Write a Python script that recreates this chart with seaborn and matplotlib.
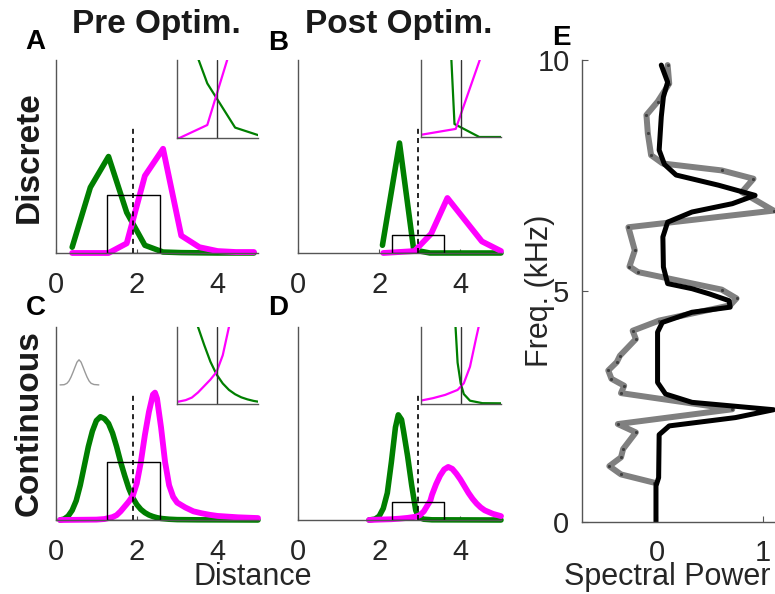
import numpy as np
import seaborn as sns
import matplotlib.pyplot as plt

# ---- panel A: discrete, pre optimisation (value per distance bin)
pre_bins = [0.4, 0.85, 1.3, 1.75, 2.2, 2.65, 3.1, 3.55, 4.0, 4.45, 4.9]
pre_disc_green = [0.03, 0.34, 0.50, 0.21, 0.04, 0.005, 0.002, 0.001, 0.0, 0.0, 0.0]
pre_disc_magenta = [0.0, 0.0, 0.0, 0.05, 0.40, 0.54, 0.09, 0.03, 0.01, 0.005, 0.005]

# ---- panel B: discrete, post optimisation
post_disc_green_x = [2.08, 2.5, 2.85, 3.25, 5.0]
post_disc_green_y = [0.04, 0.57, 0.016, 0.0, 0.0]
post_disc_magenta_x = [2.1, 2.87, 3.28, 3.68, 4.53, 5.0]
post_disc_magenta_y = [0.0, 0.01, 0.10, 0.285, 0.06, 0.01]

# ---- panel C: continuous, pre optimisation
pre_cont_green_x = [0.1, 0.2, 0.3, 0.4, 0.5, 0.6, 0.7, 0.8, 0.9, 1.0, 1.1, 1.2, 1.3, 1.4, 1.5,
                    1.6, 1.7, 1.8, 1.9, 2.0, 2.1, 2.2, 2.3, 2.4, 2.5, 2.6, 2.8, 3.0, 3.5, 5.0]
pre_cont_green_y = [0.0, 0.005, 0.02, 0.05, 0.10, 0.18, 0.28, 0.38, 0.46, 0.515, 0.535, 0.525, 0.50, 0.45, 0.38,
                    0.30, 0.23, 0.165, 0.115, 0.08, 0.055, 0.038, 0.026, 0.018, 0.012, 0.008, 0.004, 0.002, 0.001, 0.0]
pre_cont_magenta_x = [0.1, 1.0, 1.2, 1.4, 1.5, 1.6, 1.7, 1.8, 1.9, 2.0, 2.1, 2.2, 2.3, 2.4, 2.45, 2.5,
                      2.6, 2.7, 2.8, 2.9, 3.0, 3.2, 3.4, 3.6, 3.8, 4.0, 4.5, 5.0]
pre_cont_magenta_y = [0.0, 0.002, 0.005, 0.015, 0.025, 0.045, 0.07, 0.095, 0.125, 0.19, 0.30, 0.44, 0.56, 0.65, 0.66, 0.63,
                      0.48, 0.30, 0.18, 0.12, 0.09, 0.065, 0.045, 0.035, 0.027, 0.021, 0.014, 0.01]

# small gaussian kernel sketch in panel C
kernel_x = [0.1, 0.2, 0.27, 0.32, 0.37, 0.42, 0.47, 0.52, 0.57, 0.62, 0.67, 0.72, 0.77, 0.82, 0.87, 0.94, 1.06]
kernel_y = [0.70, 0.701, 0.708, 0.72, 0.74, 0.765, 0.792, 0.818, 0.83, 0.818, 0.792, 0.765, 0.74, 0.72, 0.708, 0.702, 0.70]

# ---- panel D: continuous, post optimisation
post_cont_green_x = [1.75, 1.9, 2.0, 2.1, 2.2, 2.3, 2.4, 2.47, 2.55, 2.6, 2.7, 2.8, 2.9, 2.95, 3.0, 3.1, 3.3, 5.0]
post_cont_green_y = [0.0, 0.005, 0.02, 0.06, 0.14, 0.30, 0.48, 0.545, 0.52, 0.46, 0.33, 0.18, 0.05, 0.025, 0.012, 0.004, 0.001, 0.0]
post_cont_magenta_x = [1.75, 2.0, 2.3, 2.5, 2.7, 2.9, 3.0, 3.1, 3.2, 3.26, 3.3, 3.4, 3.5, 3.6, 3.7, 3.8, 3.9,
                       4.0, 4.1, 4.2, 4.3, 4.4, 4.5, 4.6, 4.8, 5.0]
post_cont_magenta_y = [0.0, 0.002, 0.004, 0.007, 0.011, 0.017, 0.025, 0.045, 0.08, 0.10, 0.13, 0.185, 0.23, 0.262, 0.275, 0.265, 0.24,
                       0.21, 0.175, 0.14, 0.11, 0.085, 0.065, 0.05, 0.032, 0.02]

# thresholds and zoom windows (x0, x1, ytop)
pre_threshold = 1.9
post_threshold = 2.95
pre_zoom = (1.26, 2.57, 0.30)
post_zoom = (2.31, 3.6, 0.095)
post_zoom_cont = (2.31, 3.6, 0.093)

dist_ticks = [0, 2, 4]
dist_ticklabels = ['0', '2', '4']

# ---- panel E: spectral power vs frequency
gray_power = [0.10, 0.115, 0.006, -0.10, -0.087, -0.056, 0.053, 0.61, 0.91, 0.80, 1.10, -0.27, -0.21, -0.26, -0.18,
              0.61, 0.75, 0.69, 0.02, -0.23, -0.20, -0.35, -0.38, -0.46, -0.43, -0.31, -0.34, 0.71, -0.37, -0.20,
              -0.32, -0.34, -0.45, -0.34, -0.025]
gray_freq = [9.89, 9.49, 9.10, 8.81, 8.41, 7.94, 7.76, 7.61, 7.43, 7.14, 6.74, 6.38, 5.88, 5.53, 5.41,
             5.03, 4.84, 4.69, 4.36, 4.14, 3.96, 3.60, 3.46, 3.28, 3.10, 2.95, 2.79, 2.44, 2.12, 1.94,
             1.58, 1.40, 1.21, 1.03, 0.85]
black_power = [0.04, 0.10, 0.06, 0.04, 0.02, 0.07, 0.18, 0.58, 0.925, 0.71, 0.33, 0.10, 0.055, 0.06, 0.10, 0.33,
               0.49, 0.68, 0.69, 0.33, 0.05, 0.005, 0.005, 0.08, 0.33, 1.10, 0.74, 0.115, 0.02, 0.015, -0.01, -0.01]
black_freq = [9.89, 9.52, 9.20, 8.77, 8.05, 7.74, 7.51, 7.29, 7.07, 6.89, 6.71, 6.49, 6.17, 5.52, 5.16, 5.05,
              4.94, 4.79, 4.65, 4.54, 4.32, 4.11, 3.02, 2.77, 2.59, 2.43, 2.26, 2.08, 1.89, 0.96, 0.78, 0.0]

GREEN = '#007f00'
MAGENTA = '#ff00ff'
SPINE = '#555555'
TXT = '#262626'

sns.set_style('ticks')
plt.rcParams['font.family'] = ['Liberation Sans', 'DejaVu Sans']

W, H = 775, 594
fig = plt.figure(figsize=(W / 100, H / 100), dpi=100)


def px_axes(x0, y0, x1, y1):
    return fig.add_axes([x0 / W, 1 - y1 / H, (x1 - x0) / W, (y1 - y0) / H])


def style_axes(ax):
    for side in ['top', 'right']:
        ax.spines[side].set_visible(False)
    for side in ['left', 'bottom']:
        ax.spines[side].set_color(SPINE)
        ax.spines[side].set_linewidth(1)


# draws one distribution panel plus its zoomed inset
def dist_panel(main_px, inset_px, gx, gy, mx, my, thr, zoom):
    ax = px_axes(*main_px)
    sns.lineplot(x=gx, y=gy, color=GREEN, linewidth=4, ax=ax, clip_on=False)
    sns.lineplot(x=mx, y=my, color=MAGENTA, linewidth=4.2, ax=ax, clip_on=False)
    ax.plot([thr, thr], [0, 0.65], color='k', ls=(0, (3, 2.5)), lw=1.2)
    x0, x1, ytop = zoom
    ax.plot([x0, x1, x1, x0, x0], [0, 0, ytop, ytop, 0], color='k', lw=1)
    ax.set_xlim(0, 5)
    ax.set_ylim(0, 1)
    ax.set_yticks([])
    ax.set_xticks(dist_ticks)
    ax.set_xticklabels(dist_ticklabels)
    ax.tick_params(axis='x', direction='in', length=3, color=SPINE, labelsize=21, labelcolor=TXT, pad=13)
    style_axes(ax)
    ax.patch.set_alpha(0)

    ins = px_axes(*inset_px)
    sns.lineplot(x=gx, y=gy, color=GREEN, linewidth=1.6, ax=ins)
    sns.lineplot(x=mx, y=my, color=MAGENTA, linewidth=1.6, ax=ins)
    ins.axvline(thr, color='#333333', lw=1)
    ins.set_xlim(x0, x1)
    ins.set_ylim(0, ytop)
    ins.set_xticks([])
    ins.set_yticks([])
    style_axes(ins)
    ins.patch.set_alpha(0)
    return ax


axA = dist_panel((56, 60, 258, 253), (177, 60, 258, 138), pre_bins, pre_disc_green, pre_bins, pre_disc_magenta,
                 pre_threshold, pre_zoom)
axB = dist_panel((298, 60, 501, 253), (421, 60, 501, 137), post_disc_green_x, post_disc_green_y,
                 post_disc_magenta_x, post_disc_magenta_y, post_threshold, post_zoom)
axC = dist_panel((56, 327, 258, 520), (177, 327, 258, 404), pre_cont_green_x, pre_cont_green_y,
                 pre_cont_magenta_x, pre_cont_magenta_y, pre_threshold, pre_zoom)
axD = dist_panel((298, 327, 501, 520), (421, 327, 501, 404), post_cont_green_x, post_cont_green_y,
                 post_cont_magenta_x, post_cont_magenta_y, post_threshold, post_zoom_cont)

sns.lineplot(x=kernel_x, y=kernel_y, color='#999999', linewidth=1, ax=axC)

# spectral panel
axE = px_axes(582, 60, 775, 522)
sns.lineplot(x=gray_power, y=gray_freq, sort=False, estimator=None, color='#808080', linewidth=4.3,
             marker='.', markersize=3, markerfacecolor='#404040', markeredgecolor='#404040', ax=axE)
sns.lineplot(x=black_power, y=black_freq, sort=False, estimator=None, color='black', linewidth=3.6, ax=axE)
axE.set_xlim(-0.708, 1.113)
axE.set_ylim(0, 10)
axE.set_xticks([0, 1])
axE.set_yticks([0, 5, 10])
axE.tick_params(direction='in', length=4, color=SPINE, labelsize=21, labelcolor=TXT)
axE.tick_params(axis='x', pad=12)
axE.tick_params(axis='y', pad=9)
style_axes(axE)
axE.set_xlabel('Spectral Power', fontsize=22, color=TXT)
axE.xaxis.set_label_coords(0.44, -0.118)
axE.xaxis.label.set_va('center')
axE.set_ylabel('Freq. (kHz)', fontsize=22, color=TXT)
axE.yaxis.set_label_coords(-0.218, 0.5)
axE.yaxis.label.set_va('center')


def ftext(x, y, s, **kw):
    fig.text(x / W, 1 - y / H, s, ha='center', va='center', **kw)


ftext(156, 25, 'Pre Optim.', fontsize=24, fontweight='bold', color='#1a1a1a')
ftext(399, 24, 'Post Optim.', fontsize=24, fontweight='bold', color='#1a1a1a')
ftext(29, 157, 'Discrete', fontsize=24, fontweight='bold', rotation=90, color='#1a1a1a')
ftext(29, 423, 'Continuous', fontsize=24, fontweight='bold', rotation=90, color='#1a1a1a')
ftext(253, 577, 'Distance', fontsize=22, color=TXT)
for letter, (lx, ly) in zip('ABCDE', [(35, 42), (278, 43), (36, 308), (278, 308), (561, 38)]):
    ftext(lx, ly, letter, fontsize=20, fontweight='bold', color='black')

fig.savefig('out.png', dpi=100)
